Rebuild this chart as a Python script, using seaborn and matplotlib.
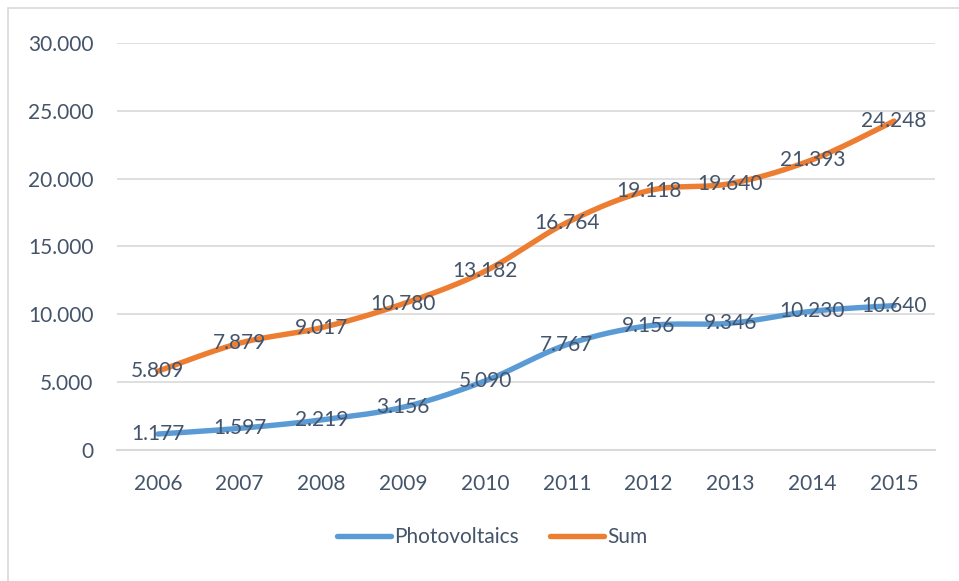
import numpy as np
import pandas as pd
import matplotlib
matplotlib.use("Agg")
import matplotlib.pyplot as plt
import seaborn as sns
from matplotlib.ticker import FuncFormatter, FixedLocator
from matplotlib.patches import Rectangle
from matplotlib.lines import Line2D

# Données
years = [2006, 2007, 2008, 2009, 2010, 2011, 2012, 2013, 2014, 2015]
photovoltaics = [1177, 1597, 2219, 3156, 5090, 7767, 9156, 9346, 10230, 10640]
total_sum = [5809, 7879, 9017, 10780, 13182, 16764, 19118, 19640, 21393, 24248]
series_names = ["Photovoltaics", "Sum"]
series_colors = ["#5B9BD5", "#ED7D31"]

TEXT_COLOR = "#44546A"
GRID_COLOR = "#D9D9D9"
LINE_W = 3.9


def smooth(x, y, steps=24):
    """Lissage type Excel (Bezier / Catmull-Rom) pour l'affichage uniquement"""
    x = np.asarray(x, float)
    y = np.asarray(y, float)
    px = np.concatenate([[x[0]], x, [x[-1]]])
    py = np.concatenate([[y[0]], y, [y[-1]]])
    xs, ys = [], []
    t = np.linspace(0, 1, steps, endpoint=False)
    for i in range(1, len(px) - 2):
        p0 = np.array([px[i], py[i]])
        p3 = np.array([px[i + 1], py[i + 1]])
        c1 = p0 + (np.array([px[i + 1], py[i + 1]]) - np.array([px[i - 1], py[i - 1]])) / 6
        c2 = p3 - (np.array([px[i + 2], py[i + 2]]) - np.array([px[i], py[i]])) / 6
        b = ((1 - t) ** 3)[:, None] * p0 + (3 * (1 - t) ** 2 * t)[:, None] * c1 \
            + (3 * (1 - t) * t ** 2)[:, None] * c2 + (t ** 3)[:, None] * p3
        xs.extend(b[:, 0])
        ys.extend(b[:, 1])
    xs.append(x[-1])
    ys.append(y[-1])
    return np.array(xs), np.array(ys)


def fmt_thousands(v, pos=None):
    v = int(round(v))
    return f"{v:,}".replace(",", ".")


sns.set_style("white")
plt.rcParams["font.family"] = ["Lato", "DejaVu Sans"]

fig = plt.figure(figsize=(9.59, 5.81), dpi=100)
ax = fig.add_axes([117 / 959, 1 - 450 / 581, (935 - 117) / 959, (450 - 43) / 581])

pos = np.arange(len(years))
for name, values, color in zip(series_names, [photovoltaics, total_sum], series_colors):
    sx, sy = smooth(pos, values)
    sns.lineplot(x=sx, y=sy, ax=ax, color=color, linewidth=LINE_W, sort=False,
                 solid_capstyle="round", legend=False)
    for i, v in enumerate(values):
        ax.text(i, v, fmt_thousands(v), ha="center", va="center",
                fontsize=15, color=TEXT_COLOR, zorder=5)

ax.set_xlim(-0.5, len(years) - 0.5)
ax.set_ylim(0, 30000)
ax.set_yticks(np.arange(0, 30001, 5000))
ax.yaxis.set_major_formatter(FuncFormatter(fmt_thousands))
ax.set_xticks(pos)
ax.set_xticklabels([str(y) for y in years])
ax.xaxis.set_minor_locator(FixedLocator(np.arange(-0.5, len(years), 1.0)))

ax.grid(axis="y", color=GRID_COLOR, linewidth=1.2)
ax.grid(axis="x", visible=False)
for s in ["top", "right", "left"]:
    ax.spines[s].set_visible(False)
ax.spines["bottom"].set_color(GRID_COLOR)
ax.spines["bottom"].set_linewidth(1.5)

ax.tick_params(axis="y", length=0, pad=17, labelsize=15, labelcolor=TEXT_COLOR)
ax.tick_params(axis="x", which="major", length=0, pad=17, labelsize=15, labelcolor=TEXT_COLOR)
ax.tick_params(axis="x", which="minor", length=5, width=1.5, color=GRID_COLOR)
ax.set_xlabel("")
ax.set_ylabel("")

handles = [Line2D([0], [0], color=c, linewidth=LINE_W, solid_capstyle="round") for c in series_colors]
fig.legend(handles, series_names, loc="center", bbox_to_anchor=(492 / 959, 1 - 537 / 581),
           ncol=2, frameon=False, fontsize=15, labelcolor=TEXT_COLOR,
           handlelength=2.6, handletextpad=0.15, columnspacing=1.5)

# Cadre du graphique (seulement bords gauche et haut visibles)
fig.patches.append(Rectangle((8 / 959, -0.1), 1.2, 1 - 8 / 581 + 0.1,
                             transform=fig.transFigure, fill=False,
                             edgecolor=GRID_COLOR, linewidth=1.2))

fig.savefig("out.png", dpi=100)
